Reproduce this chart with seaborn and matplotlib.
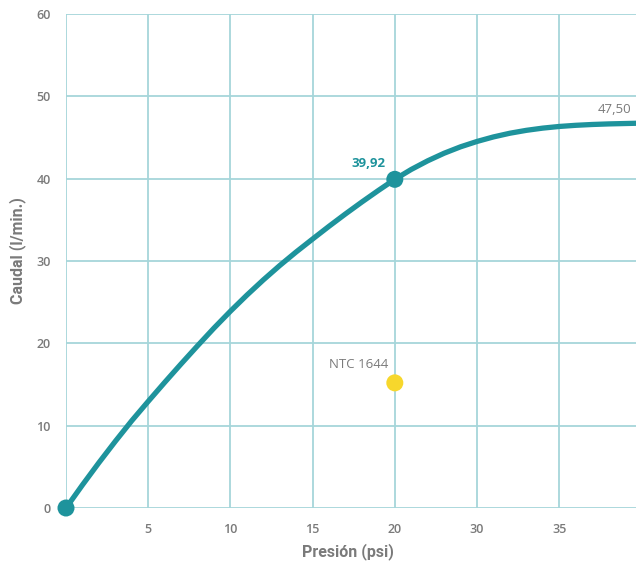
import pandas as pd
import seaborn as sns
import matplotlib.pyplot as plt

# Curve (x in axis position units, labels skip 25)
presion = [0, 1, 2, 3, 4, 5, 6, 7, 8, 9, 10, 11, 12, 13, 14, 15, 16, 17, 18, 19,
           20, 21, 22, 23, 24, 25, 26, 27, 28, 29, 30, 31, 32, 33, 34.7]
caudal = [0, 2.8, 5.5, 8.1, 10.6, 12.95, 15.25, 17.5, 19.7, 21.85, 23.9, 25.85, 27.7,
          29.45, 31.1, 32.67, 34.22, 35.72, 37.17, 38.57, 39.92, 41.12, 42.17, 43.09,
          43.87, 44.52, 45.07, 45.52, 45.87, 46.14, 46.34, 46.48, 46.58, 46.65, 46.73]

marked_x = [0, 20]
marked_y = [0, 39.92]
ntc_x = [20]
ntc_y = [15.2]

tick_pos = [0, 5, 10, 15, 20, 25, 30]
tick_labels = ["", "5", "10", "15", "20", "30", "35"]
y_ticks = [0, 10, 20, 30, 40, 50, 60]

teal = '#1e939c'
grid_col = '#a6d6da'
gray = '#7a7a7a'

df = pd.DataFrame({'presion': presion, 'caudal': caudal})

sns.set_style('white')
plt.rcParams['font.family'] = ['Open Sans', 'DejaVu Sans']

fig = plt.figure(figsize=(6.36, 5.67), dpi=100)
ax = fig.add_axes([66 / 636, 59 / 567, 570 / 636, 494 / 567])

sns.lineplot(data=df, x='presion', y='caudal', ax=ax, color=teal, linewidth=3.8,
             solid_capstyle='round', solid_joinstyle='round', zorder=3)
sns.scatterplot(x=marked_x, y=marked_y, ax=ax, color=teal, s=150, edgecolor='none',
                zorder=4, clip_on=False)
sns.scatterplot(x=ntc_x, y=ntc_y, ax=ax, color='#f7d72c', s=150, edgecolor='none', zorder=4)

ax.set_xlim(0, 34.67)
ax.set_ylim(0, 60)
ax.set_xticks(tick_pos)
ax.set_xticklabels(tick_labels)
ax.set_yticks(y_ticks)
ax.grid(True, color=grid_col, linewidth=1.3)
ax.set_axisbelow(True)
for s in ax.spines.values():
    s.set_visible(False)
ax.tick_params(axis='both', length=7, width=1.3, color=grid_col, labelcolor=gray,
               labelsize=9)
ax.tick_params(axis='x', pad=4)
ax.tick_params(axis='y', pad=4)
for lab in ax.get_xticklabels() + ax.get_yticklabels():
    lab.set_fontweight('semibold')

ax.set_xlabel('Presión (psi)', fontsize=11.5, fontweight='bold', color=gray,
              family=['Roboto', 'DejaVu Sans'])
ax.set_ylabel('Caudal (l/min.)', fontsize=11.5, fontweight='bold', color=gray,
              family=['Roboto', 'DejaVu Sans'])
ax.xaxis.set_label_coords(0.495, -0.072)
ax.yaxis.set_label_coords(-0.071, 0.522)

ax.text(19.4, 41.0, '39,92', ha='right', va='bottom', color=teal, fontsize=9.5,
        fontweight='bold')
ax.text(19.6, 16.6, 'NTC 1644', ha='right', va='bottom', color=gray, fontsize=9.5)
ax.text(34.4, 47.6, '47,50', ha='right', va='bottom', color=gray, fontsize=9.5)

fig.savefig('out.png', dpi=100)
